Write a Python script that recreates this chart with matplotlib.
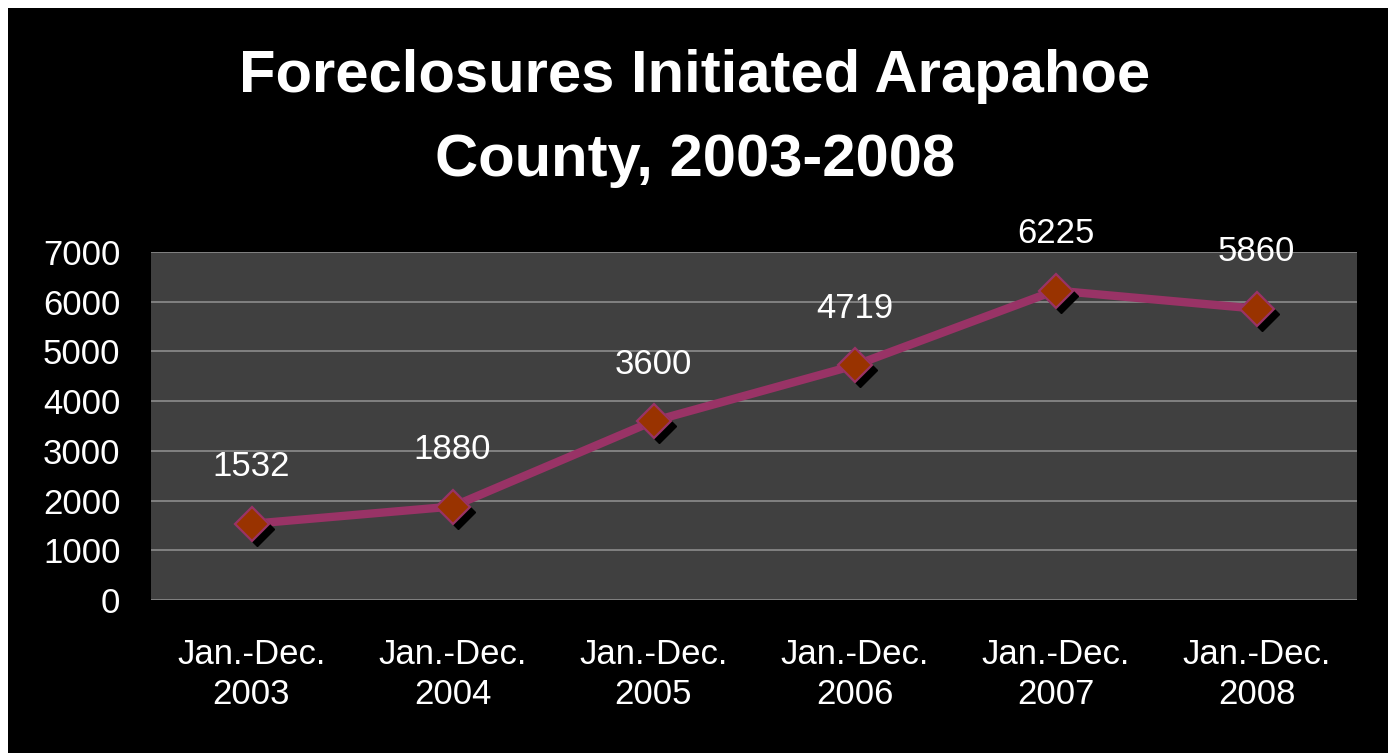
import matplotlib
matplotlib.use("Agg")
import matplotlib.pyplot as plt
from matplotlib.transforms import offset_copy
from matplotlib.patches import Rectangle

# data
periods = ["Jan.-Dec.\n2003", "Jan.-Dec.\n2004", "Jan.-Dec.\n2005",
           "Jan.-Dec.\n2006", "Jan.-Dec.\n2007", "Jan.-Dec.\n2008"]
foreclosures = [1532, 1880, 3600, 4719, 6225, 5860]
y_ticks = [0, 1000, 2000, 3000, 4000, 5000, 6000, 7000]

plt.rcParams['font.family'] = ['Liberation Sans', 'DejaVu Sans']

fig = plt.figure(figsize=(13.88, 7.53), dpi=100, facecolor='white')
# black slide background, thin white strip left and top
fig.patches.append(Rectangle((8 / 1388, 0), 1, 1 - 8 / 753, transform=fig.transFigure,
                             facecolor='black', edgecolor='none', zorder=-5))

ax = fig.add_axes([151 / 1388, 1 - 600 / 753, 1206 / 1388, 348 / 753])
ax.set_facecolor('#404040')
x = list(range(len(periods)))

# shadow of the markers
shadow = offset_copy(ax.transData, fig=fig, x=5, y=-5, units='dots')
ax.plot(x, foreclosures, linestyle='none', marker='D', markersize=17,
        color='black', transform=shadow, zorder=3)
ax.plot(x, foreclosures, color='#993366', linewidth=6, zorder=2)
ax.plot(x, foreclosures, linestyle='none', marker='D', markersize=17,
        markerfacecolor='#993300', markeredgecolor='#993366', markeredgewidth=1.6, zorder=4)

for xi, v in zip(x, foreclosures):
    ax.annotate(str(v), (xi, v), xytext=(0, 41), textcoords='offset points',
                ha='center', va='center', color='white', fontsize=25, zorder=5)

ax.set_xlim(-0.5, len(periods) - 0.5)
ax.set_ylim(0, 7000)
ax.set_yticks(y_ticks)
ax.set_xticks(x)
ax.set_xticklabels(periods, fontsize=25, color='white', linespacing=1.28)
ax.tick_params(axis='y', labelsize=25, labelcolor='white', length=0, pad=22)
ax.tick_params(axis='x', length=0, pad=27)
ax.yaxis.grid(True, color='#8c8c8c', linewidth=1.2)
ax.set_axisbelow(True)
for s in ax.spines.values():
    s.set_visible(False)

fig.text(695 / 1388, 1 - 76 / 753, "Foreclosures Initiated Arapahoe",
         ha='center', va='center', color='white', fontsize=43, fontweight='bold')
fig.text(695 / 1388, 1 - 161 / 753, "County, 2003-2008",
         ha='center', va='center', color='white', fontsize=43, fontweight='bold')

fig.savefig("out.png", dpi=100, facecolor=fig.get_facecolor())
